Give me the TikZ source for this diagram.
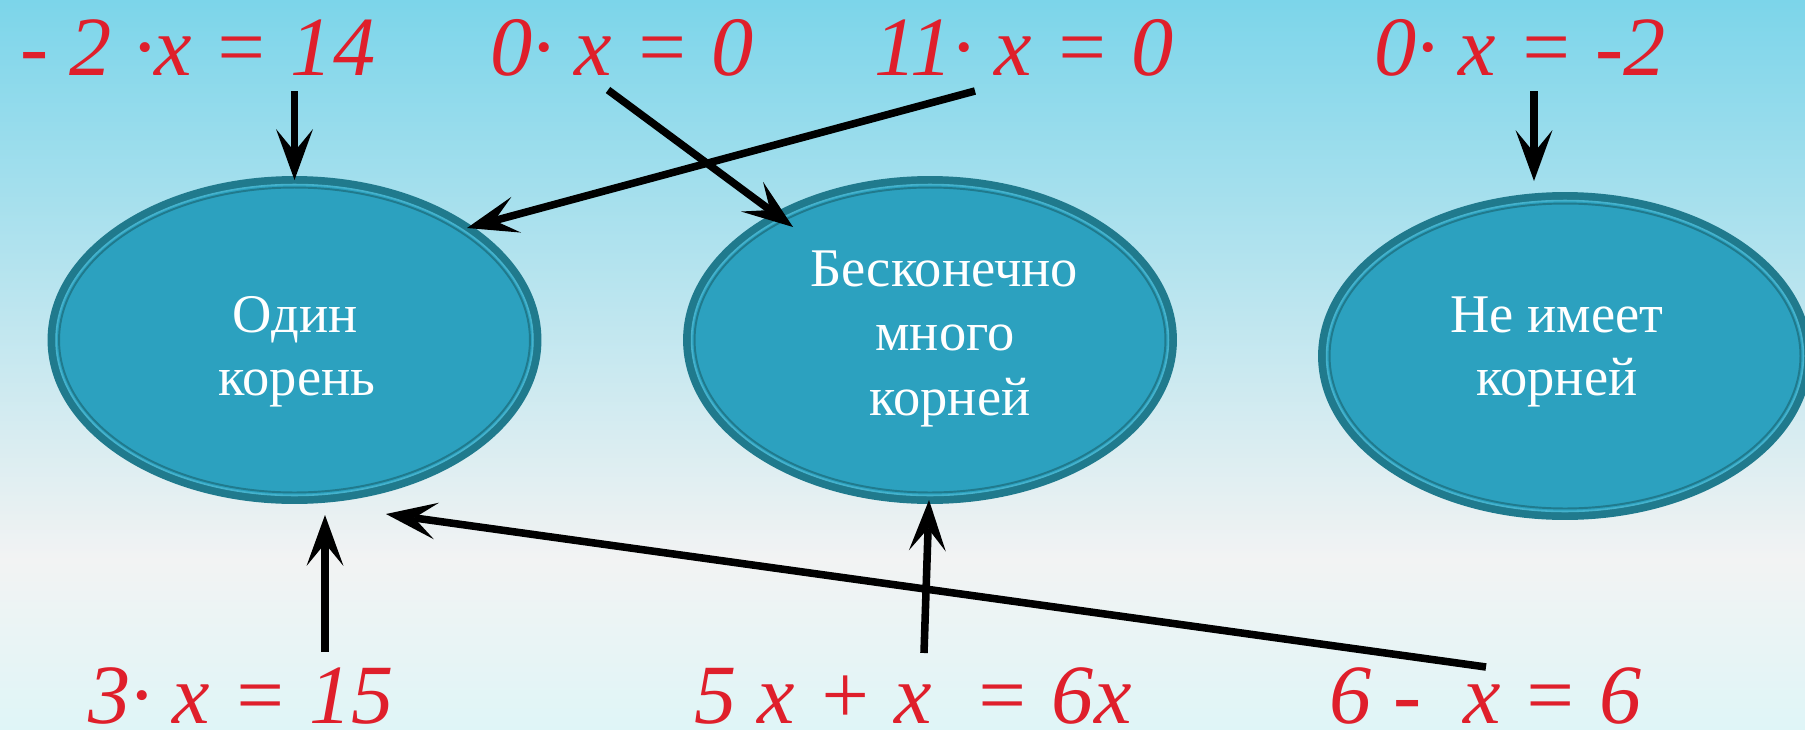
\documentclass[tikz,border=0pt]{standalone}
\usepackage{fontspec}
\setmainfont{Liberation Serif}
\newfontfamily\eqfont{Liberation Serif Italic}
\usetikzlibrary{shapes.geometric,arrows.meta}
\definecolor{bgtop}{HTML}{7CD5EA}
\definecolor{bgmid}{HTML}{F2F3F3}
\definecolor{bgbot}{HTML}{DFF5F7}
\definecolor{ellfill}{HTML}{2CA1BF}
\definecolor{ellband}{HTML}{207A8D}
\definecolor{ellhi}{HTML}{45B2CC}
\definecolor{eqred}{HTML}{DF1F2B}
\tikzset{
  ellbox/.style={ellipse, fill=ellfill, draw=ellband, line width=4.55pt,
    minimum width=9.72cm, minimum height=6.4cm, inner sep=0pt},
  innerhi/.style={draw=ellhi, line width=0.9pt},
  innerdk/.style={draw=ellband, line width=1.1pt},
  elltext/.style={anchor=base, text=white, inner sep=0pt,
    font=\fontsize{31pt}{36pt}\selectfont},
  eqtext/.style={anchor=base, text=eqred, inner sep=0pt,
    font=\fontsize{48pt}{50pt}\eqfont},
  arr/.style={line width=4.3pt, draw=black,
    -{Stealth[length=1.02cm,width=0.74cm,inset=0.45cm,line width=0pt]}}
}
\begin{document}
\begin{tikzpicture}[x=0.02cm,y=-0.02cm]
\useasboundingbox (0,0) rectangle (1805,730);
\clip (0,0) rectangle (1805,730);
% background
\shade[top color=bgtop, bottom color=bgmid] (0,0) rectangle (1805,560);
\shade[top color=bgmid, bottom color=bgbot] (0,559) rectangle (1805,730);

% ellipses
\node[ellbox] (e1) at (294.5,340) {};
\node[ellbox] (e2) at (930,340) {};
\node[ellbox] (e3) at (1565,356) {};
\foreach \e in {e1,e2,e3}{
  \draw[innerhi] (\e.center) ellipse [x radius=4.77cm, y radius=3.11cm];
  \draw[innerdk] (\e.center) ellipse [x radius=4.71cm, y radius=3.05cm];
}

% ellipse texts
\node[elltext] (t1a) at (295,332) {Один};
\node[elltext] (t1b) at (297,395) {корень};
\node[elltext] (t2a) at (944,286) {Бесконечно};
\node[elltext] (t2b) at (945,350) {много};
\node[elltext] (t2c) at (950,415) {корней};
\node[elltext] (t3a) at (1557,332) {Не имеет};
\node[elltext] (t3b) at (1557,395) {корней};

% equations
\node[eqtext] (eq1) at (198,75) {- 2 ·x = 14};
\node[eqtext] (eq2) at (622,75) {0· x = 0};
\node[eqtext] (eq3) at (1024,75) {11· x = 0};
\node[eqtext] (eq4) at (1520,75) {0· x = -2};
\node[eqtext] (eq5) at (241,723) {3· x = 15};
\node[eqtext] (eq6) at (913,723) {5 x + x \ = 6x};
\node[eqtext] (eq7) at (1486,723) {6 - \ x = 6};

% connector ends
\coordinate (s1) at (294.5,91);  \coordinate (h1) at (294.5,180);
\coordinate (s2) at (608,90);    \coordinate (h2) at (793,227);
\coordinate (s3) at (975,91);    \coordinate (h3) at (467,228);
\coordinate (s4) at (1534,91);   \coordinate (h4) at (1534,181);
\coordinate (s5) at (325,652);   \coordinate (h5) at (325,515);
\coordinate (s6) at (924,653);   \coordinate (h6) at (929,500);
\coordinate (s7) at (1486,667);  \coordinate (h7) at (386,514);

\draw[arr] (s1) -- (h1);
\draw[arr] (s2) -- (h2);
\draw[arr] (s3) -- (h3);
\draw[arr] (s4) -- (h4);
\draw[arr] (s5) -- (h5);
\draw[arr] (s6) -- (h6);
\draw[arr] (s7) -- (h7);
\end{tikzpicture}
\end{document}
